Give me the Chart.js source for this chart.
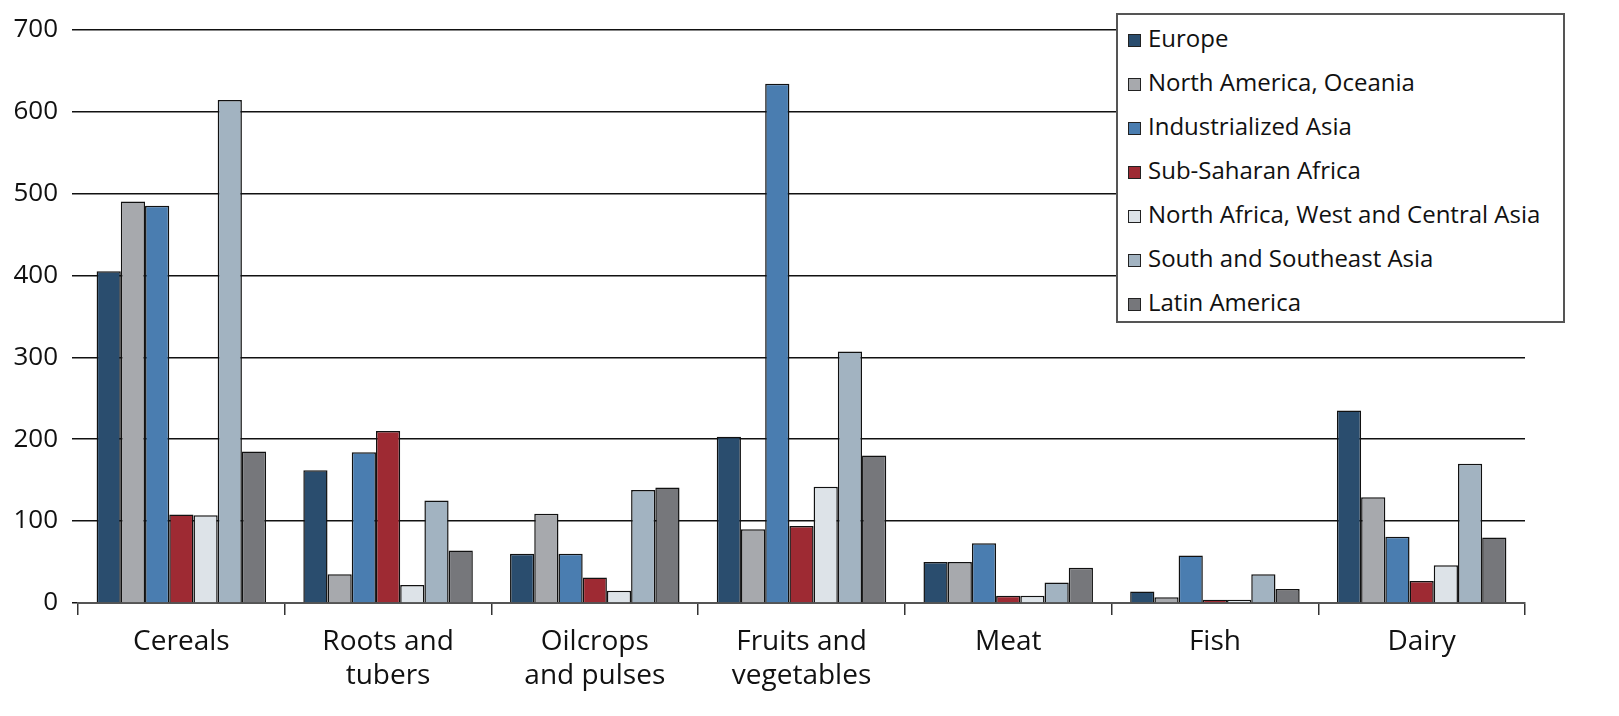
<!DOCTYPE html>
<html>
<head>
<meta charset="utf-8">
<script src="https://cdn.jsdelivr.net/npm/chart.js@4.4.1/dist/chart.umd.min.js"></script>
<style>
  body { margin: 0; background: #fff; }
  #wrap { position: relative; width: 1619px; height: 716px; }
  #legend {
    position: absolute; left: 1116px; top: 13px; width: 445px; height: 305px;
    background: #fff; border: 2px solid #555; box-sizing: content-box;
    font-family: "Open Sans", sans-serif; font-size: 24px; color: #111;
    padding-top: 1px;
  }
  #legend div { height: 44px; line-height: 44px; white-space: nowrap; }
  #legend span.box {
    display: inline-block; width: 11px; height: 11px; border: 1.5px solid #222;
    margin: 0 7px 0 10px; vertical-align: 0px;
  }
</style>
</head>
<body>
<div id="wrap">
  <canvas id="foodChart"></canvas>
  <div id="legend"></div>
</div>
<script>
const categories = ['Cereals', ['Roots and', 'tubers'], ['Oilcrops', 'and pulses'], ['Fruits and', 'vegetables'], 'Meat', 'Fish', 'Dairy'];
const regions = ['Europe', 'North America, Oceania', 'Industrialized Asia', 'Sub-Saharan Africa',
                 'North Africa, West and Central Asia', 'South and Southeast Asia', 'Latin America'];
const colors = ['#2a4d6e', '#a7a9ad', '#4a7db0', '#9e2a33', '#dde3e8', '#a2b3c1', '#76777b'];

// kg per capita per year
const europe   = [405, 162, 60, 203, 50, 14, 235];
const northAm  = [490, 35, 109, 90, 50, 7, 129];
const indAsia  = [485, 184, 60, 634, 73, 58, 81];
const subSah   = [108, 210, 31, 94, 9, 4, 27];
const northAfr = [107, 22, 15, 142, 9, 4, 46];
const southAs  = [614, 125, 138, 307, 25, 35, 170];
const latinAm  = [185, 64, 141, 180, 43, 17, 80];
const yTicks = [0, 100, 200, 300, 400, 500, 600, 700];

const series = [europe, northAm, indAsia, subSah, northAfr, southAs, latinAm];

const ctx = document.getElementById('foodChart').getContext('2d');
const chart = new Chart(ctx, {
    type: 'bar',
    data: {
        labels: categories,
        datasets: series.map((vals, i) => ({
            label: regions[i],
            data: vals,
            backgroundColor: colors[i],
            borderColor: '#111',
            borderWidth: 1.5,
            borderSkipped: 'bottom',
            categoryPercentage: 0.82,
            barPercentage: 1.0
        }))
    },
    options: {
        responsive: true,
        maintainAspectRatio: false,
        animation: false,
        layout: { padding: { top: 29, right: 94, left: 0, bottom: 0 } },
        plugins: {
            legend: { display: false },
            tooltip: { enabled: false }
        },
        scales: {
            x: {
                offset: true,
                grid: { offset: true, drawOnChartArea: false, drawTicks: true, tickLength: 12, color: '#333', lineWidth: 1.5 },
                border: { display: true, color: '#555', width: 2 },
                ticks: { color: '#111', font: { family: 'Open Sans', size: 28, lineHeight: 1.22 }, padding: 10, maxRotation: 0, autoSkip: false },
                afterFit: s => { s.height = 113; }
            },
            y: {
                min: 0,
                max: 700,
                afterBuildTicks: s => { s.ticks = yTicks.map(v => ({ value: v })); },
                grid: { color: '#111', lineWidth: 1.5, drawTicks: true, tickLength: 6 },
                border: { display: false },
                ticks: { color: '#111', font: { family: 'Open Sans', size: 26 }, padding: 14 },
                afterFit: s => { s.width = 78; }
            }
        }
    }
});

const legendEl = document.getElementById('legend');
regions.forEach((r, i) => {
    const row = document.createElement('div');
    row.innerHTML = '<span class="box" style="background:' + colors[i] + '"></span>' + r;
    legendEl.appendChild(row);
});
</script>
</body>
</html>
